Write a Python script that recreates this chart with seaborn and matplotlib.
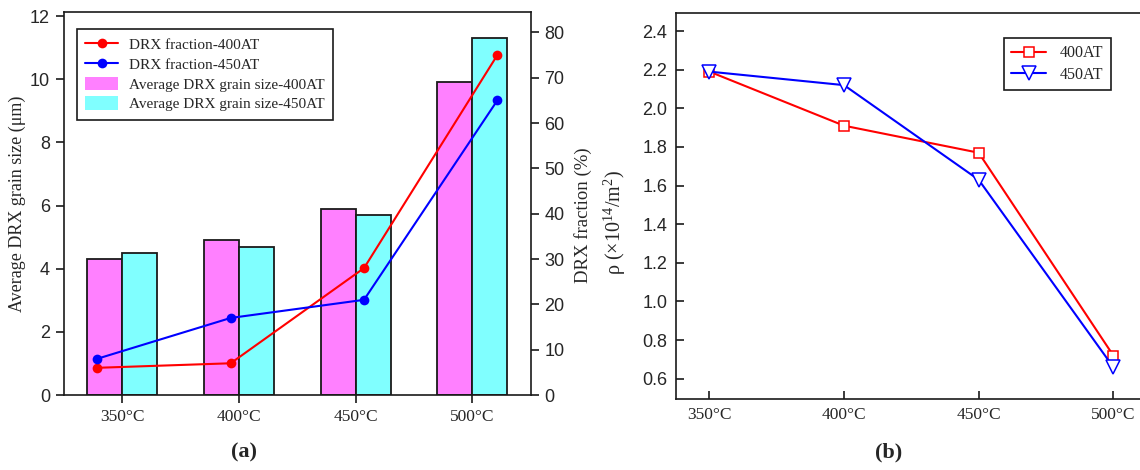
import numpy as np
import pandas as pd
import matplotlib
matplotlib.use("Agg")
import matplotlib.pyplot as plt
from matplotlib.lines import Line2D
from matplotlib.patches import Patch
import seaborn as sns

# ---- data ----
temps = ["350°C", "400°C", "450°C", "500°C"]
grain_400at = [4.3, 4.9, 5.9, 9.9]      # average DRX grain size (µm)
grain_450at = [4.5, 4.7, 5.7, 11.3]
drx_400at = [6, 7, 28, 75]              # DRX fraction (%)
drx_450at = [8, 17, 21, 65]
rho_400at = [2.19, 1.91, 1.77, 0.72]    # dislocation density (x10^14 /m^2)
rho_450at = [2.19, 2.12, 1.63, 0.66]
group_names = ["400AT", "450AT"]

PINK, CYAN = "#FF80FF", "#80FFFF"
RED, BLUE = "#FF0000", "#0000FF"
INK = "#1a1a1a"

sns.set_style("ticks")
plt.rcParams["font.family"] = ["Liberation Serif", "DejaVu Serif"]
plt.rcParams["mathtext.fontset"] = "custom"
plt.rcParams["mathtext.rm"] = "Liberation Serif"
plt.rcParams["axes.edgecolor"] = INK
plt.rcParams["axes.linewidth"] = 1.2

W, H = 1140, 470
fig = plt.figure(figsize=(W / 100, H / 100), dpi=100)


def rect(left, top, right, bottom):
    return [left / W, 1 - bottom / H, (right - left) / W, (bottom - top) / H]


def sans_ticks(labels):
    for lab in labels:
        lab.set_fontfamily("Liberation Sans")
        lab.set_fontsize(13)


# ---- (a) grain size bars + DRX fraction lines ----
box_a = rect(64, 12, 530.7, 395)
ax_a = fig.add_axes(box_a)
bars = pd.DataFrame({
    "temp": temps * 2,
    "size": grain_400at + grain_450at,
    "group": [group_names[0]] * 4 + [group_names[1]] * 4,
})
sns.barplot(data=bars, x="temp", y="size", hue="group",
            palette=[PINK, CYAN], saturation=1, width=0.6,
            edgecolor=INK, linewidth=1.3, legend=False, ax=ax_a)
ax_a.set_xlim(-0.5, 3.5)
ax_a.set_ylim(0, 12.13)
ax_a.set_yticks(np.arange(0, 13, 2))
sans_ticks(ax_a.get_yticklabels())
ax_a.set_xlabel("")
ax_a.set_ylabel("Average DRX grain size (μm)", fontsize=13)
ax_a.yaxis.set_label_coords(-0.082, 0.5)
ax_a.tick_params(axis="x", direction="out", length=6, width=1.2,
                 labelsize=12.5, pad=4, color=INK)
ax_a.tick_params(axis="y", direction="out", length=6, width=1.2,
                 pad=4, color=INK)
for s in ("top", "right", "left", "bottom"):
    ax_a.spines[s].set_visible(True)

ax_f = fig.add_axes(box_a)
ax_f.patch.set_visible(False)
for s in ax_f.spines.values():
    s.set_visible(False)
ax_f.xaxis.set_visible(False)
ax_f.yaxis.tick_right()
ax_f.yaxis.set_label_position("right")
idx = np.arange(len(temps))
sns.lineplot(x=idx, y=drx_400at, color=RED, marker="o", markersize=7,
             markeredgewidth=0, linewidth=1.5, ax=ax_f)
sns.lineplot(x=idx, y=drx_450at, color=BLUE, marker="o", markersize=7,
             markeredgewidth=0, linewidth=1.5, ax=ax_f)
ax_f.set_xlim(-0.25, 3.25)
ax_f.set_ylim(0, 84.5)
ax_f.set_yticks(np.arange(0, 81, 10))
sans_ticks(ax_f.get_yticklabels())
ax_f.tick_params(axis="y", direction="out", length=6, width=1.2,
                 pad=4, color=INK)
ax_f.set_ylabel("DRX fraction (%)", fontsize=13.5)
ax_f.yaxis.set_label_coords(1.093, 0.47)

handles_a = [
    Line2D([], [], color=RED, marker="o", markersize=7, markeredgewidth=0, lw=1.5),
    Line2D([], [], color=BLUE, marker="o", markersize=7, markeredgewidth=0, lw=1.5),
    Patch(facecolor=PINK, edgecolor="none"),
    Patch(facecolor=CYAN, edgecolor="none"),
]
labels_a = [
    "DRX fraction-" + group_names[0],
    "DRX fraction-" + group_names[1],
    "Average DRX grain size-" + group_names[0],
    "Average DRX grain size-" + group_names[1],
]
leg_a = ax_f.legend(handles_a, labels_a, loc="upper left",
                    bbox_to_anchor=(77 / W, 1 - 29 / H),
                    bbox_transform=fig.transFigure, borderaxespad=0,
                    fontsize=11, frameon=True, fancybox=False, shadow=False,
                    borderpad=0.55, handlelength=2.15, handleheight=1.0,
                    handletextpad=0.7, labelspacing=0.3)
leg_a.get_frame().set_edgecolor(INK)
leg_a.get_frame().set_linewidth(1.2)
leg_a.get_frame().set_alpha(1)

# ---- (b) dislocation density ----
ax_b = fig.add_axes(rect(675.7, 12.7, 1147, 399))
sns.lineplot(x=idx, y=rho_400at, color=RED, marker="s", markersize=7,
             markerfacecolor="white", markeredgecolor=RED, markeredgewidth=1.1,
             linewidth=1.5, ax=ax_b)
sns.lineplot(x=idx, y=rho_450at, color=BLUE, marker="v", markersize=9.5,
             markerfacecolor="white", markeredgecolor=BLUE, markeredgewidth=1.1,
             linewidth=1.5, ax=ax_b)
ax_b.set_xlim(-0.25, 3.25)
ax_b.set_ylim(0.495, 2.495)
ax_b.set_xticks(idx)
ax_b.set_xticklabels(temps)
ax_b.set_yticks(np.round(np.arange(0.6, 2.41, 0.2), 1))
ax_b.set_yticklabels([f"{v:.1f}" for v in np.arange(0.6, 2.41, 0.2)])
sans_ticks(ax_b.get_yticklabels())
ax_b.tick_params(axis="both", direction="in", length=6, width=1.2, color=INK)
ax_b.tick_params(axis="x", labelsize=12.5, pad=6)
ax_b.tick_params(axis="y", pad=6)
for s in ("top", "right", "left", "bottom"):
    ax_b.spines[s].set_visible(True)
ax_b.set_ylabel(r"ρ (×10$^{\mathrm{14}}$/m$^{\mathrm{2}}$)", fontsize=14.5)
ax_b.yaxis.set_label_coords(-0.102, 0.456)

handles_b = [
    Line2D([], [], color=RED, marker="s", markersize=7, markerfacecolor="white",
           markeredgecolor=RED, markeredgewidth=1.1, lw=1.5),
    Line2D([], [], color=BLUE, marker="v", markersize=9.5, markerfacecolor="white",
           markeredgecolor=BLUE, markeredgewidth=1.1, lw=1.5),
]
leg_b = ax_b.legend(handles_b, group_names, loc="upper left",
                    bbox_to_anchor=(1004 / W, 1 - 38 / H),
                    bbox_transform=fig.transFigure, borderaxespad=0,
                    fontsize=11.5, frameon=True, fancybox=False, shadow=False,
                    borderpad=0.45, handlelength=2.2, handletextpad=0.85,
                    labelspacing=0.35)
leg_b.get_frame().set_edgecolor(INK)
leg_b.get_frame().set_linewidth(1.2)
leg_b.get_frame().set_alpha(1)

# ---- panel tags ----
fig.text(244 / W, 1 - 452 / H, "(a)", ha="center", va="center",
         fontsize=16, fontweight="bold")
fig.text(889 / W, 1 - 452 / H, "(b)", ha="center", va="center",
         fontsize=16, fontweight="bold")

fig.savefig("out.png", dpi=100, facecolor="white")
